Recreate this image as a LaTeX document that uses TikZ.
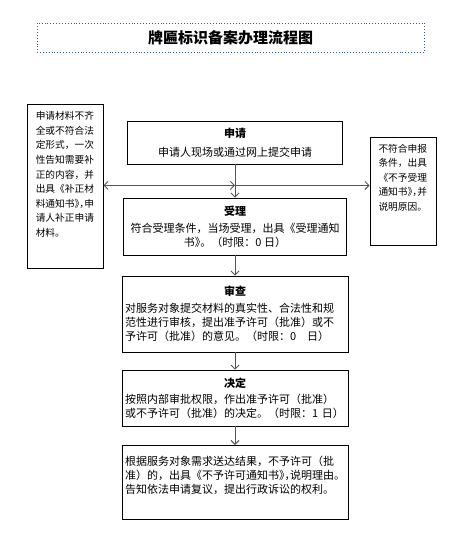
\documentclass[tikz,border=0pt]{standalone}
\usepackage{fontspec}
\setmainfont{Noto Sans CJK SC}
\usetikzlibrary{positioning}
\usetikzlibrary{arrows.meta}
\definecolor{titleblue}{RGB}{52,92,140}
\definecolor{linegray}{RGB}{85,85,85}
\newcommand{\hw}[1]{{\addfontfeature{RawFeature=+halt}#1}}

\begin{document}
\begin{tikzpicture}[
    x=1pt, y=-1pt,
    stepbox/.style={rectangle, draw, line width=0.9pt, inner xsep=3pt, inner ysep=2pt, minimum width=226pt, font=\fontsize{11}{14}\selectfont},
    sidebox/.style={rectangle, draw, line width=0.9pt, anchor=north, align=left, font=\fontsize{9.7}{14.6}\selectfont},
    flow/.style={draw=linegray, line width=0.9pt},
    >={Straight Barb[length=4pt,width=8pt]}
]
    \useasboundingbox (0,0) rectangle (461,559);

    \node[draw=titleblue, dotted, line width=0.9pt, minimum width=387pt, minimum height=29pt, font=\fontsize{15}{18}\selectfont\bfseries] (title) at (230.5,37.5) {牌匾标识备案办理流程图};

    \node[stepbox, minimum width=215pt, minimum height=43pt, align=center] (apply) at (235,142.5)
        {{\bfseries 申请}\\[5pt]申请人现场或通过网上提交申请};

    \node[stepbox, minimum width=223pt, minimum height=57pt, align=center] (accept) at (235,226.5)
        {{\bfseries 受理}\\[3pt]符合受理条件，当场受理，出具《受理通知\\书\hw{》}。（时限：0 日）};

    \node[stepbox, minimum height=76pt, text width=220pt, align=left] (review) at (235,314)
        {\makebox[\linewidth]{\bfseries 审查}\\[3pt]对服务对象提交材料的真实性、合法性和规\\范性进行审核，提出准予许可（批准）或不\\予许可（批准）的意见。（时限：0　日）};

    \node[stepbox, minimum height=56pt, text width=220pt, align=left] (decide) at (235,398)
        {\makebox[\linewidth]{\bfseries 决定}\\[2pt]按照内部审批权限，作出准予许可（批准）\\或不予许可（批准）的决定。（时限：1 日）};

    \node[stepbox, anchor=north, inner ysep=11pt, text width=220pt, text depth=43pt, align=left] (notify) at (235,445)
        {根据服务对象需求送达结果，不予许可（批\\准）的，出具《不予许可通知书\hw{》，}说明理由。\\告知依法申请复议，提出行政诉讼的权利。};

    \node[sidebox, inner xsep=8.75pt, inner ysep=7pt, text width=58.5pt, text depth=142pt] (reject) at (65,104)
        {申请材料不齐\\全或不符合法\\定形式，一次\\性告知需要补\\正的内容，并\\出具《补正材\\料通知书\hw{》，}申\\请人补正申请\\材料。};

    \node[sidebox, inner xsep=8.5pt, inner ysep=6.5pt, text width=49pt, text depth=87pt] (refuse) at (403,137)
        {不符合申报\\条件，出具\\《不予受理\\通知书\hw{》，}并\\说明原因。};

    \coordinate (split) at ([yshift=-21pt]apply.south);

    \draw[flow, ->] (apply) -- (accept);
    \draw[flow, <->] (reject.east |- split) -- (split);
    \draw[flow, ->] (split) -- (refuse.west |- split);
    \draw[flow, ->] (accept) -- (review);
    \draw[flow, ->] (review) -- (decide);
    \draw[flow, ->] (decide) -- (notify);
\end{tikzpicture}
\end{document}
